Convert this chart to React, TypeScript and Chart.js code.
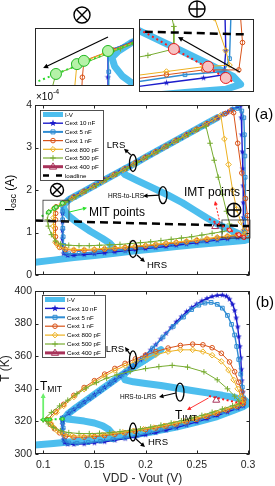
import React, { useEffect, useRef } from 'react';
import { Chart, registerables } from 'chart.js';
Chart.register(...registerables);

type P = [number, number];
const FONT = '"Liberation Sans", Arial, Helvetica, sans-serif';

// ---------------- axes ----------------
const X_MIN = 0.092, X_MAX = 0.302;
const X_TICKS = [0.1, 0.15, 0.2, 0.25, 0.3];
const IA_TICKS = [0, 1, 2, 3, 4]; // x 1e-4 A
const T_TICKS = [300, 320, 340, 360, 380, 400];

const COL = {
  iv: '#4DBEEE', c10: '#1C1CCB', c5: '#2E8CD3', c1: '#D95319', c800: '#EDB120', c500: '#77AC30', c400: '#A8325A',
};

const LEGEND_A = ['I-V', 'Cext 10 nF', 'Cext 5 nF', 'Cext 1 nF', 'Cext 800 pF', 'Cext 500 pF', 'Cext 400 pF', 'loadline'];
const LEGEND_B = ['I-V', 'Cext 10 nF', 'Cext 5 nF', 'Cext 1 nF', 'Cext 800 pF', 'Cext 500 pF', 'Cext 400 pF'];

// ---------------- panel (a): Iosc (1e-4 A) vs VDD - Vout (V) ----------------
const IV_A_MAIN: P[] = [[0.092,0.3],[0.11,0.35],[0.13,0.41],[0.15,0.46],[0.17,0.51],[0.19,0.57],[0.21,0.62],[0.23,0.67],[0.25,0.72],[0.27,0.76],[0.285,0.79],[0.296,0.81],[0.3,0.84],[0.298,0.89],[0.292,0.96],[0.283,1.06],[0.272,1.18],[0.26,1.34],[0.248,1.52],[0.236,1.7],[0.222,1.88],[0.206,2.06],[0.192,2.22],[0.18,2.36],[0.177,2.44],[0.18,2.5],[0.19,2.63],[0.2,2.77],[0.215,2.97],[0.23,3.17],[0.245,3.37],[0.26,3.57],[0.27,3.7]];
const IV_A_MIT: P[] = [[0.18,2.5],[0.16,2.24],[0.14,1.97],[0.13,1.84],[0.125,1.77],[0.1215,1.69],[0.1198,1.63],[0.1205,1.55],[0.1225,1.46],[0.126,1.37],[0.134,1.22],[0.146,1.03],[0.158,0.86],[0.165,0.75],[0.168,0.67],[0.165,0.6],[0.158,0.54],[0.15,0.5]];
const C10N_A: P[] = [[0.1188,1.69],[0.125,1.77],[0.13,1.84],[0.135,1.9],[0.14,1.97],[0.145,2.04],[0.15,2.1],[0.155,2.17],[0.16,2.24],[0.165,2.3],[0.17,2.37],[0.175,2.44],[0.18,2.5],[0.185,2.57],[0.19,2.63],[0.195,2.7],[0.2,2.77],[0.205,2.83],[0.21,2.9],[0.215,2.97],[0.22,3.03],[0.225,3.1],[0.23,3.17],[0.235,3.23],[0.24,3.3],[0.245,3.37],[0.25,3.43],[0.255,3.5],[0.26,3.57],[0.265,3.63],[0.27,3.7],[0.275,3.77],[0.28,3.83],[0.285,3.9],[0.29,3.96],[0.293,4.0],[0.2935,3.7],[0.294,3.3],[0.2945,2.9],[0.295,2.5],[0.2953,2.1],[0.2955,1.7],[0.2957,1.35],[0.296,1.05],[0.2955,0.9],[0.29,0.88],[0.28,0.85],[0.27,0.82],[0.26,0.79],[0.25,0.76],[0.24,0.73],[0.23,0.7],[0.22,0.67],[0.21,0.645],[0.2,0.62],[0.19,0.595],[0.18,0.57],[0.17,0.545],[0.16,0.52],[0.15,0.5],[0.14,0.48],[0.13,0.465],[0.124,0.46],[0.12,0.5],[0.119,0.65],[0.1188,0.85],[0.1188,1.05],[0.1188,1.25],[0.1188,1.45],[0.1188,1.69]];
const C5N_A: P[] = [[0.1188,1.69],[0.127,1.8],[0.137,1.93],[0.147,2.06],[0.157,2.2],[0.167,2.33],[0.177,2.46],[0.187,2.6],[0.197,2.73],[0.207,2.86],[0.217,2.99],[0.227,3.12],[0.237,3.26],[0.247,3.39],[0.257,3.52],[0.267,3.66],[0.277,3.79],[0.285,3.9],[0.29,3.92],[0.294,3.86],[0.296,3.7],[0.2965,3.3],[0.297,2.8],[0.2972,2.3],[0.2975,1.8],[0.2975,1.35],[0.297,1.0],[0.2955,0.92],[0.285,0.9],[0.27,0.85],[0.255,0.8],[0.24,0.76],[0.225,0.72],[0.21,0.68],[0.195,0.64],[0.18,0.6],[0.165,0.57],[0.15,0.54],[0.135,0.51],[0.125,0.5],[0.121,0.54],[0.12,0.7],[0.1195,0.9],[0.1192,1.1],[0.119,1.3],[0.119,1.5],[0.1188,1.69]];
const C1N_A: P[] = [[0.1126,1.6],[0.12,1.7],[0.13,1.84],[0.14,1.97],[0.15,2.1],[0.16,2.24],[0.17,2.37],[0.18,2.5],[0.19,2.64],[0.2,2.77],[0.21,2.9],[0.22,3.03],[0.23,3.17],[0.24,3.3],[0.25,3.43],[0.26,3.56],[0.27,3.7],[0.278,3.8],[0.283,3.86],[0.286,3.82],[0.29,3.1],[0.294,2.4],[0.2975,1.8],[0.2995,1.4],[0.3005,1.1],[0.2995,0.93],[0.29,0.93],[0.28,0.9],[0.27,0.87],[0.26,0.84],[0.25,0.81],[0.24,0.78],[0.23,0.755],[0.22,0.73],[0.21,0.705],[0.2,0.68],[0.19,0.66],[0.18,0.64],[0.17,0.62],[0.16,0.605],[0.15,0.59],[0.14,0.58],[0.13,0.58],[0.122,0.6],[0.116,0.65],[0.113,0.75],[0.112,0.9],[0.1118,1.1],[0.112,1.3],[0.1122,1.45],[0.1126,1.6]];
const C800P_A: P[] = [[0.1108,1.57],[0.118,1.67],[0.128,1.8],[0.138,1.94],[0.148,2.07],[0.158,2.2],[0.168,2.34],[0.178,2.47],[0.188,2.6],[0.198,2.74],[0.208,2.87],[0.218,3.0],[0.228,3.14],[0.238,3.27],[0.248,3.4],[0.258,3.54],[0.266,3.65],[0.2735,3.76],[0.277,3.2],[0.281,2.6],[0.285,2.0],[0.289,1.55],[0.293,1.25],[0.296,1.05],[0.297,0.96],[0.29,0.95],[0.28,0.92],[0.27,0.89],[0.26,0.86],[0.25,0.83],[0.24,0.8],[0.23,0.775],[0.22,0.75],[0.21,0.725],[0.2,0.7],[0.19,0.68],[0.18,0.66],[0.17,0.64],[0.16,0.625],[0.15,0.61],[0.14,0.6],[0.13,0.6],[0.121,0.62],[0.115,0.67],[0.112,0.77],[0.1105,0.95],[0.11,1.15],[0.1102,1.35],[0.1108,1.57]];
const C500P_A: P[] = [[0.1054,1.48],[0.112,1.57],[0.122,1.71],[0.132,1.84],[0.142,1.98],[0.152,2.11],[0.162,2.25],[0.172,2.38],[0.182,2.51],[0.192,2.65],[0.202,2.78],[0.212,2.91],[0.222,3.05],[0.232,3.18],[0.242,3.31],[0.25,3.42],[0.259,3.5],[0.263,3.1],[0.267,2.7],[0.271,2.3],[0.275,1.9],[0.279,1.5],[0.282,1.2],[0.282,1.06],[0.275,1.02],[0.265,0.98],[0.255,0.94],[0.245,0.9],[0.235,0.87],[0.225,0.84],[0.215,0.81],[0.205,0.78],[0.195,0.76],[0.185,0.74],[0.175,0.72],[0.165,0.71],[0.155,0.7],[0.145,0.69],[0.135,0.69],[0.125,0.7],[0.117,0.73],[0.112,0.8],[0.108,0.95],[0.105,1.15],[0.104,1.3],[0.1054,1.48]];
const C400P_A: P[] = [[0.268, 1.14]];
const LOADLINE_A: P[] = [[0.092, 1.28], [0.302, 1.15]];
const MIT_LINE_A: P[] = [[0.0985, 1.38], [0.127, 1.79]];
const MIT_PTS_A: P[] = [[0.1054, 1.48], [0.1108, 1.57], [0.1126, 1.6], [0.1188, 1.69]];
const IMT_LINE_A: P[] = [[0.262, 1.32], [0.298, 0.855]];
const IMT_PTS_A: P[] = [[0.282, 1.06], [0.2912, 0.95], [0.296, 0.88]];

// ---------------- panel (b): T (K) vs VDD - Vout (V) ----------------
const IV_B_MAIN: P[] = [[0.092,305.5],[0.11,306.5],[0.13,307.7],[0.15,309],[0.17,310.5],[0.19,312],[0.21,314],[0.23,316.5],[0.25,319.5],[0.27,323],[0.285,326.5],[0.295,329],[0.3,331],[0.297,333],[0.288,334.5],[0.275,336],[0.26,337.5],[0.245,339],[0.23,340.5],[0.215,342],[0.2,343.2],[0.188,344.3],[0.18,345.5],[0.178,348],[0.182,351],[0.19,354.5],[0.2,358],[0.215,364]];
const IV_B_MIT: P[] = [[0.2,358],[0.18,350],[0.16,341],[0.14,332],[0.13,327.5],[0.124,324.5],[0.1216,322.5],[0.123,321.5],[0.13,321],[0.14,320.2],[0.15,319],[0.158,317.3],[0.164,315],[0.167,312.8],[0.167,311],[0.163,309.8],[0.155,309.3]];
const C10N_B: P[] = [[0.1188,322],[0.125,325],[0.13,327.3],[0.135,329.5],[0.14,331.8],[0.145,334],[0.15,336.3],[0.155,338.5],[0.16,340.8],[0.165,343],[0.17,345.3],[0.175,347.6],[0.18,350],[0.185,352.5],[0.19,355],[0.195,357.8],[0.2,360.7],[0.205,363.8],[0.21,367],[0.215,370.5],[0.22,374],[0.225,377.5],[0.23,381],[0.235,384.2],[0.24,387.2],[0.245,389.8],[0.25,392],[0.255,393.9],[0.26,395.4],[0.265,396.6],[0.27,397.3],[0.275,397.5],[0.279,396.8],[0.282,395],[0.285,391.8],[0.287,388],[0.2885,383.5],[0.29,378],[0.291,372],[0.292,366],[0.293,359],[0.2935,352],[0.294,345],[0.295,338],[0.296,332.5],[0.2955,329.5],[0.29,328],[0.28,325.8],[0.27,323.6],[0.26,321.6],[0.25,319.7],[0.24,317.9],[0.23,316.2],[0.22,314.6],[0.21,313.1],[0.2,311.8],[0.19,310.5],[0.18,309.4],[0.17,308.4],[0.16,307.5],[0.15,306.8],[0.14,306.2],[0.13,305.9],[0.124,306],[0.121,307],[0.12,309],[0.1195,312],[0.119,315],[0.119,318],[0.1188,320],[0.1188,322]];
const C5N_B: P[] = [[0.1188,322],[0.127,326.2],[0.137,330.4],[0.147,334.9],[0.157,339.4],[0.167,343.9],[0.177,348.5],[0.187,353.5],[0.197,358.9],[0.207,365],[0.217,371.8],[0.227,378.3],[0.237,384],[0.245,388.6],[0.252,391.3],[0.258,392.6],[0.264,393],[0.27,391.8],[0.275,389.5],[0.28,385],[0.284,379.5],[0.287,373],[0.289,366],[0.291,358],[0.293,349],[0.2945,341],[0.2957,334.5],[0.2955,330.5],[0.288,328.5],[0.276,326],[0.264,323.5],[0.252,321],[0.24,318.8],[0.228,316.7],[0.216,314.8],[0.204,313],[0.192,311.4],[0.18,310],[0.168,308.8],[0.156,307.8],[0.144,307],[0.133,306.6],[0.125,306.8],[0.121,308.5],[0.12,312],[0.1195,316],[0.119,319.5],[0.1188,322]];
const C1N_B: P[] = [[0.104,321],[0.112,326],[0.12,330.5],[0.13,336],[0.14,340.8],[0.15,345],[0.16,349],[0.17,352.5],[0.18,355.6],[0.19,358.3],[0.2,360.7],[0.21,362.8],[0.222,365],[0.234,366.6],[0.246,367.4],[0.256,367],[0.265,365.2],[0.274,361.8],[0.282,356.5],[0.287,350.5],[0.291,344],[0.294,338],[0.296,333.5],[0.2955,331],[0.29,329.3],[0.28,327],[0.27,325],[0.26,323],[0.25,321.3],[0.24,319.8],[0.23,318.4],[0.22,317.1],[0.21,316],[0.2,315],[0.19,314],[0.18,313],[0.17,312.1],[0.16,311.3],[0.15,310.7],[0.14,310.3],[0.13,310.3],[0.122,311],[0.116,313],[0.111,315.5],[0.107,318.2],[0.104,321]];
const C800P_B: P[] = [[0.1064,321],[0.113,325.5],[0.12,329.5],[0.13,335],[0.14,339.8],[0.15,344],[0.16,347.8],[0.17,351.2],[0.18,354.2],[0.19,356.8],[0.2,359],[0.21,360.9],[0.222,362.8],[0.234,363.9],[0.246,363.9],[0.256,362.8],[0.265,360.6],[0.274,356.8],[0.281,351.5],[0.286,345.5],[0.29,340],[0.293,335.5],[0.295,332.5],[0.2945,330.8],[0.288,329.5],[0.278,327.3],[0.268,325.2],[0.258,323.3],[0.248,321.6],[0.238,320],[0.228,318.6],[0.218,317.3],[0.208,316.2],[0.198,315.2],[0.188,314.2],[0.178,313.3],[0.168,312.5],[0.158,311.8],[0.148,311.3],[0.138,311],[0.128,311.1],[0.12,312],[0.114,314],[0.11,316.5],[0.1075,318.8],[0.1064,321]];
const C500P_B: P[] = [[0.1,321],[0.108,325.5],[0.116,329.5],[0.124,333],[0.133,337],[0.142,340.5],[0.152,343.8],[0.162,346.5],[0.172,348.6],[0.185,350.6],[0.2,352.4],[0.213,353.6],[0.226,354.4],[0.241,353.3],[0.257,350.4],[0.27,345.5],[0.28,340],[0.287,335.5],[0.291,332.5],[0.292,330.8],[0.285,329.6],[0.275,327.6],[0.265,325.6],[0.255,323.7],[0.245,322],[0.235,320.4],[0.225,319],[0.215,317.7],[0.205,316.5],[0.195,315.4],[0.185,314.5],[0.175,313.7],[0.165,313.1],[0.155,312.7],[0.145,312.5],[0.135,312.6],[0.125,313.1],[0.117,314.3],[0.11,316.3],[0.105,318.5],[0.1,321]];
const C400P_B: P[] = [[0.269, 333]];
const MIT_LINE_B: P[] = [[0.098, 321], [0.121, 321.6]];
const MIT_PTS_B: P[] = [[0.1, 321], [0.104, 321.1], [0.1064, 321.2], [0.1188, 321.5]];
const IMT_LINE_B: P[] = [[0.262, 335.5], [0.297, 330.5]];

// ---------------- annotations (data coordinates) ----------------
const A_LRS_TEXT: P = [0.1711, 3.06];
const A_LRS_ELL: P = [0.1877, 2.635];
const A_LRS_ARROW: P[] = [[0.1855, 2.83], [0.1789, 2.97]];
const A_H2L_TEXT: P = [0.1809, 1.86];
const A_H2L_ELL: P = [0.217, 1.88];
const A_H2L_ARROW: P[] = [[0.2131, 1.88], [0.1975, 1.86]];
const A_IMT_TEXT: P = [0.2649, 1.93];
const A_IMT_ARROW: P[] = [[0.2727, 1.22], [0.2678, 1.74]];
const A_OPLUS: P = [0.2864, 1.53];
const A_MIT_TEXT: P = [0.172, 1.46];
const A_MIT_ARROW: P[] = [[0.1252, 1.48], [0.1428, 1.58]];
const A_OTIMES: P = [0.1135, 2.0];
const A_HRS_TEXT: P = [0.2112, 0.235];
const A_HRS_ELL: P = [0.1877, 0.612];
const A_HRS_ARROW: P[] = [[0.1916, 0.47], [0.1994, 0.306]];
const A_LABEL: P = [0.3157, 3.765];
const A_BOX_MIT: P[] = [[0.0998, 1.27], [0.1252, 1.76]];
const A_BOX_IMT: P[] = [[0.2746, 0.87], [0.302, 1.294]];

const B_LRS_TEXT: P = [0.1701, 364.4];
const B_LRS_ELL: P = [0.1877, 357.7];
const B_LRS_ARROW: P[] = [[0.1848, 361.3], [0.1799, 365.6]];
const B_H2L_TEXT: P = [0.1926, 335];
const B_H2L_ELL: P = [0.2336, 338];
const B_H2L_ARROW: P[] = [[0.2297, 337.4], [0.2131, 335]];
const B_HRS_TEXT: P = [0.2121, 307.4];
const B_HRS_ELL: P = [0.1877, 313.5];
const B_HRS_ARROW: P[] = [[0.1906, 309.2], [0.1994, 304.3]];
const B_TMIT_ANCHOR: P = [0.0969, 339.3];
const B_TMIT_ARROW: P[] = [[0.1, 321.8], [0.1, 337.4]];
const B_TIMT_ANCHOR: P = [0.2287, 321.5];
const B_TIMT_ARROW: P[] = [[0.2615, 334.4], [0.2405, 327]];
const B_LABEL: P = [0.3166, 392.6];

// insets: zoomed views of panel (a)
const INSET_L_X = [0.1, 0.1255];
const INSET_L_Y = [1.37, 1.9];
const INSET_L_ARROW: P[] = [[0.1188, 1.818], [0.1021, 1.534]];
const INSET_R_X = [0.2726, 0.3036];
const INSET_R_Y = [0.793, 1.246];
const INSET_R_ARROW: P[] = [[0.2998, 0.917], [0.2831, 1.134]];

// ---------------- helpers ----------------
function makeStar(color: string, size: number) {
  const c = document.createElement('canvas');
  c.width = size; c.height = size;
  const g = c.getContext('2d')!;
  const cx = size / 2, cy = size / 2, R = size / 2 - 0.3, r = R * 0.42;
  g.beginPath();
  for (let i = 0; i < 10; i++) {
    const ang = -Math.PI / 2 + (i * Math.PI) / 5;
    const rad = i % 2 === 0 ? R : r;
    const x = cx + rad * Math.cos(ang), y = cy + rad * Math.sin(ang);
    if (i === 0) g.moveTo(x, y); else g.lineTo(x, y);
  }
  g.closePath();
  g.fillStyle = color; g.fill();
  return c;
}

const pts = (d: P[]) => d.map(([x, y]) => ({ x, y }));

function band(d: P[]) {
  return { data: pts(d), showLine: true, borderColor: COL.iv, borderWidth: 7, pointRadius: 0, borderCapStyle: 'round', borderJoinStyle: 'round', order: 20, clip: 0 };
}
function curve(d: P[], color: string, width: number, pointStyle: any, radius: number, order: number, extra: any = {}) {
  return { data: pts(d), showLine: true, borderColor: color, borderWidth: width, pointStyle, pointRadius: radius, pointBorderColor: color, pointBackgroundColor: 'rgba(0,0,0,0)', pointBorderWidth: 1, tension: 0, order, clip: 0, ...extra };
}

function seriesA(star: any, inset: boolean) {
  const big = inset ? 5.5 : 2;
  return [
    band(IV_A_MAIN), band(IV_A_MIT),
    curve(C10N_A, COL.c10, 1.4, star, 3, 9),
    curve(C5N_A, COL.c5, 1.4, 'rect', 2.6, 8),
    curve(C1N_A, COL.c1, 1, 'circle', 2.3, 7),
    curve(C800P_A, COL.c800, 1, 'rectRot', 2.8, 6),
    curve(C500P_A, COL.c500, 1, 'cross', 2.8, 5),
    curve(C400P_A, COL.c400, 1.2, 'triangle', 4, 4, { showLine: false }),
    curve(LOADLINE_A, '#000', 2.5, 'circle', 0, 3, { borderDash: [8, 5] }),
    curve(MIT_LINE_A, '#2BD92B', 2, 'circle', 0, 2, { borderDash: [2, 3] }),
    curve(MIT_PTS_A, '#22B822', 1, 'circle', big, 1, { showLine: false, pointBackgroundColor: '#B5F2A8' }),
    curve(IMT_LINE_A, '#FF1A1A', 2, 'circle', 0, 2, { borderDash: [2, 3] }),
    curve(IMT_PTS_A, '#E41E1E', 1, 'circle', big, 1, { showLine: false, pointBackgroundColor: '#F7C3C3' }),
  ];
}
function seriesB(star: any) {
  return [
    band(IV_B_MAIN), band(IV_B_MIT),
    curve(C10N_B, COL.c10, 1.4, star, 3, 9),
    curve(C5N_B, COL.c5, 1.4, 'rect', 2.6, 8),
    curve(C1N_B, COL.c1, 1, 'circle', 2.3, 7),
    curve(C800P_B, COL.c800, 1, 'rectRot', 2.8, 6),
    curve(C500P_B, COL.c500, 1, 'cross', 2.8, 5),
    curve(C400P_B, COL.c400, 1.2, 'triangle', 4, 4, { showLine: false }),
    curve(MIT_LINE_B, '#2BD92B', 2, 'circle', 0, 2, { borderDash: [2, 2.5] }),
    curve(MIT_PTS_B, '#22C822', 1, 'circle', 1.6, 1, { showLine: false, pointBackgroundColor: '#7BEA6E' }),
    curve(IMT_LINE_B, '#FF1A1A', 2, 'circle', 0, 2, { borderDash: [2, 2.5] }),
  ];
}

function px(chart: any, p: P): P {
  return [chart.scales.x.getPixelForValue(p[0]), chart.scales.y.getPixelForValue(p[1])];
}
function text(ctx: any, s: string, x: number, y: number, size: number, align = 'center', baseline = 'middle', color = '#000') {
  ctx.save();
  ctx.font = `${size}px ${FONT}`; ctx.fillStyle = color; ctx.textAlign = align; ctx.textBaseline = baseline;
  ctx.fillText(s, x, y);
  ctx.restore();
}
function arrow(ctx: any, a: P, b: P, color = '#000', width = 1.2, dash: number[] = [], head = 4.5) {
  const ang = Math.atan2(b[1] - a[1], b[0] - a[0]);
  ctx.save();
  ctx.strokeStyle = color; ctx.fillStyle = color; ctx.lineWidth = width; ctx.setLineDash(dash);
  ctx.beginPath(); ctx.moveTo(a[0], a[1]);
  ctx.lineTo(b[0] - Math.cos(ang) * head * 0.7, b[1] - Math.sin(ang) * head * 0.7); ctx.stroke();
  ctx.setLineDash([]);
  ctx.beginPath();
  ctx.moveTo(b[0], b[1]);
  ctx.lineTo(b[0] - head * Math.cos(ang) + head * 0.5 * Math.sin(ang), b[1] - head * Math.sin(ang) - head * 0.5 * Math.cos(ang));
  ctx.lineTo(b[0] - head * Math.cos(ang) - head * 0.5 * Math.sin(ang), b[1] - head * Math.sin(ang) + head * 0.5 * Math.cos(ang));
  ctx.closePath(); ctx.fill();
  ctx.restore();
}
function ellipse(ctx: any, c: P, rx: number, ry: number) {
  ctx.save(); ctx.strokeStyle = '#000'; ctx.lineWidth = 1.3;
  ctx.beginPath(); ctx.ellipse(c[0], c[1], rx, ry, 0, 0, Math.PI * 2); ctx.stroke(); ctx.restore();
}
function circSym(ctx: any, c: P, r: number, plus: boolean) {
  ctx.save(); ctx.strokeStyle = '#000'; ctx.lineWidth = 1.4;
  ctx.beginPath(); ctx.arc(c[0], c[1], r, 0, Math.PI * 2); ctx.stroke();
  ctx.beginPath();
  if (plus) {
    ctx.moveTo(c[0] - r, c[1]); ctx.lineTo(c[0] + r, c[1]); ctx.moveTo(c[0], c[1] - r); ctx.lineTo(c[0], c[1] + r);
  } else {
    const d = r * Math.SQRT1_2;
    ctx.moveTo(c[0] - d, c[1] - d); ctx.lineTo(c[0] + d, c[1] + d); ctx.moveTo(c[0] + d, c[1] - d); ctx.lineTo(c[0] - d, c[1] + d);
  }
  ctx.stroke(); ctx.restore();
}
function rectData(chart: any, box: P[]) {
  const a = px(chart, box[0]), b = px(chart, box[1]);
  const ctx = chart.ctx;
  ctx.save(); ctx.strokeStyle = '#333'; ctx.lineWidth = 0.8;
  ctx.strokeRect(Math.min(a[0], b[0]), Math.min(a[1], b[1]), Math.abs(b[0] - a[0]), Math.abs(b[1] - a[1]));
  ctx.restore();
}
function frame(chart: any, xt: number[], yt: number[]) {
  const { ctx, chartArea: a, scales } = chart;
  ctx.save(); ctx.strokeStyle = '#262626'; ctx.lineWidth = 1;
  const L = Math.round(a.left) + 0.5, R = Math.round(a.right) - 0.5, T = Math.round(a.top) + 0.5, B = Math.round(a.bottom) - 0.5;
  ctx.strokeRect(L, T, R - L, B - T);
  ctx.beginPath();
  for (const v of xt) {
    const x = Math.round(scales.x.getPixelForValue(v)) + 0.5;
    ctx.moveTo(x, B); ctx.lineTo(x, B - 3); ctx.moveTo(x, T); ctx.lineTo(x, T + 3);
  }
  for (const v of yt) {
    const y = Math.round(scales.y.getPixelForValue(v)) + 0.5;
    ctx.moveTo(L, y); ctx.lineTo(L + 3, y); ctx.moveTo(R, y); ctx.lineTo(R - 3, y);
  }
  ctx.stroke(); ctx.restore();
}
function marker(ctx: any, style: string, x: number, y: number, color: string) {
  ctx.save(); ctx.strokeStyle = color; ctx.fillStyle = color; ctx.lineWidth = 1;
  ctx.beginPath();
  if (style === 'star') {
    const R = 3.6, r = R * 0.42;
    for (let i = 0; i < 10; i++) {
      const ang = -Math.PI / 2 + (i * Math.PI) / 5, rad = i % 2 === 0 ? R : r;
      const xx = x + rad * Math.cos(ang), yy = y + rad * Math.sin(ang);
      if (i === 0) ctx.moveTo(xx, yy); else ctx.lineTo(xx, yy);
    }
    ctx.closePath(); ctx.fill();
  } else if (style === 'rect') { ctx.rect(x - 2, y - 2, 4, 4); ctx.stroke(); }
  else if (style === 'circle') { ctx.arc(x, y, 2.3, 0, Math.PI * 2); ctx.stroke(); }
  else if (style === 'rectRot') { ctx.moveTo(x, y - 2.8); ctx.lineTo(x + 2.8, y); ctx.lineTo(x, y + 2.8); ctx.lineTo(x - 2.8, y); ctx.closePath(); ctx.stroke(); }
  else if (style === 'cross') { ctx.moveTo(x - 2.8, y); ctx.lineTo(x + 2.8, y); ctx.moveTo(x, y - 2.8); ctx.lineTo(x, y + 2.8); ctx.stroke(); }
  else if (style === 'triangle') { ctx.moveTo(x, y - 3.8); ctx.lineTo(x + 3.6, y + 2.4); ctx.lineTo(x - 3.6, y + 2.4); ctx.closePath(); ctx.stroke(); }
  ctx.restore();
}
const LEG_STYLE = [
  { c: COL.iv, w: 5, m: '' },
  { c: COL.c10, w: 1.4, m: 'star' },
  { c: COL.c5, w: 2, m: 'rect' },
  { c: COL.c1, w: 1.2, m: 'circle' },
  { c: COL.c800, w: 1.2, m: 'rectRot' },
  { c: COL.c500, w: 1.2, m: 'cross' },
  { c: COL.c400, w: 3, m: 'triangle' },
  { c: '#000', w: 2.5, m: 'dash' },
];
function legend(ctx: any, left: number, top: number, w: number, h: number, labels: string[], step: number) {
  ctx.save();
  ctx.fillStyle = '#fff'; ctx.fillRect(left, top, w, h);
  ctx.strokeStyle = '#262626'; ctx.lineWidth = 0.8; ctx.strokeRect(left + 0.5, top + 0.5, w, h);
  labels.forEach((lab, i) => {
    const st = LEG_STYLE[i];
    const y = top + 4.5 + i * step;
    ctx.strokeStyle = st.c; ctx.lineWidth = st.w; ctx.lineCap = 'butt';
    ctx.beginPath();
    if (st.m === 'dash') { ctx.moveTo(left + 3, y); ctx.lineTo(left + 9, y); ctx.moveTo(left + 16, y); ctx.lineTo(left + 22, y); }
    else { ctx.moveTo(left + 3, y); ctx.lineTo(left + 23, y); }
    ctx.stroke();
    if (st.m && st.m !== 'dash') marker(ctx, st.m, left + 13, y, st.c);
    text(ctx, lab, left + 25, y + 0.5, 6.2, 'left', 'middle', '#000');
  });
  ctx.restore();
}
function subText(ctx: any, main: string, sub: string, x: number, y: number, s1: number, s2: number, dy: number) {
  ctx.save();
  ctx.font = `${s1}px ${FONT}`; ctx.fillStyle = '#000'; ctx.textBaseline = 'alphabetic'; ctx.textAlign = 'left';
  ctx.fillText(main, x, y);
  const w = ctx.measureText(main).width;
  ctx.font = `${s2}px ${FONT}`; ctx.fillText(sub, x + w, y + dy);
  ctx.restore();
}

// ---------------- plugins ----------------
const plugA = {
  id: 'plugA',
  afterDraw(chart: any) {
    const { ctx, chartArea: a } = chart;
    frame(chart, X_TICKS, IA_TICKS);
    rectData(chart, A_BOX_MIT); rectData(chart, A_BOX_IMT);
    text(ctx, 'LRS', ...px(chart, A_LRS_TEXT), 9.5);
    ellipse(ctx, px(chart, A_LRS_ELL), 3.5, 8.5);
    arrow(ctx, px(chart, A_LRS_ARROW[0]), px(chart, A_LRS_ARROW[1]));
    text(ctx, 'HRS-to-LRS', ...px(chart, A_H2L_TEXT), 6.5);
    ellipse(ctx, px(chart, A_H2L_ELL), 4, 8.5);
    arrow(ctx, px(chart, A_H2L_ARROW[0]), px(chart, A_H2L_ARROW[1]));
    text(ctx, 'IMT points', ...px(chart, A_IMT_TEXT), 12);
    arrow(ctx, px(chart, A_IMT_ARROW[0]), px(chart, A_IMT_ARROW[1]), '#FF2020', 1, [2, 1.5], 4);
    circSym(ctx, px(chart, A_OPLUS), 6.8, true);
    text(ctx, 'MIT points', ...px(chart, A_MIT_TEXT), 12);
    arrow(ctx, px(chart, A_MIT_ARROW[0]), px(chart, A_MIT_ARROW[1]), '#2BE02B', 1, [], 4);
    circSym(ctx, px(chart, A_OTIMES), 6.5, false);
    text(ctx, 'HRS', ...px(chart, A_HRS_TEXT), 9.5);
    ellipse(ctx, px(chart, A_HRS_ELL), 4, 8.5);
    arrow(ctx, px(chart, A_HRS_ARROW[0]), px(chart, A_HRS_ARROW[1]));
    text(ctx, '(a)', ...px(chart, A_LABEL), 15);
    subText(ctx, '\u00d710', '-4', a.left + 1, a.top - 5, 10, 7, -6);
    legend(ctx, a.left + 5, a.top + 5, 63, 70, LEGEND_A, 8.7);
    ctx.save();
    ctx.translate(11, (a.top + a.bottom) / 2 + 3); ctx.rotate(-Math.PI / 2);
    ctx.font = `12px ${FONT}`;
    const w1 = ctx.measureText('I').width;
    ctx.font = `9px ${FONT}`;
    const w2 = ctx.measureText('osc').width;
    ctx.font = `12px ${FONT}`;
    const w3 = ctx.measureText(' (A)').width;
    const x0 = -(w1 + w2 + w3) / 2;
    ctx.fillStyle = '#000'; ctx.textBaseline = 'middle'; ctx.textAlign = 'left';
    ctx.fillText('I', x0, 0);
    ctx.font = `9px ${FONT}`; ctx.fillText('osc', x0 + w1, 3);
    ctx.font = `12px ${FONT}`; ctx.fillText(' (A)', x0 + w1 + w2, 0);
    ctx.restore();
  },
};
const plugB = {
  id: 'plugB',
  afterDraw(chart: any) {
    const { ctx, chartArea: a } = chart;
    frame(chart, X_TICKS, T_TICKS);
    text(ctx, 'LRS', ...px(chart, B_LRS_TEXT), 9.5);
    ellipse(ctx, px(chart, B_LRS_ELL), 3.5, 9);
    arrow(ctx, px(chart, B_LRS_ARROW[0]), px(chart, B_LRS_ARROW[1]));
    text(ctx, 'HRS-to-LRS', ...px(chart, B_H2L_TEXT), 6.5);
    ellipse(ctx, px(chart, B_H2L_ELL), 4, 9);
    arrow(ctx, px(chart, B_H2L_ARROW[0]), px(chart, B_H2L_ARROW[1]));
    text(ctx, 'HRS', ...px(chart, B_HRS_TEXT), 9.5);
    ellipse(ctx, px(chart, B_HRS_ELL), 3.5, 9);
    arrow(ctx, px(chart, B_HRS_ARROW[0]), px(chart, B_HRS_ARROW[1]));
    arrow(ctx, px(chart, B_TMIT_ARROW[0]), px(chart, B_TMIT_ARROW[1]), '#6CF06C', 1.8, [], 5);
    const tm = px(chart, B_TMIT_ANCHOR);
    subText(ctx, 'T', 'MIT', tm[0], tm[1], 12, 8.5, 2);
    arrow(ctx, px(chart, B_TIMT_ARROW[0]), px(chart, B_TIMT_ARROW[1]), '#FF2020', 0.9, [], 4);
    const ti = px(chart, B_TIMT_ANCHOR);
    subText(ctx, 'T', 'IMT', ti[0], ti[1], 12, 8.5, 2);
    text(ctx, '(b)', ...px(chart, B_LABEL), 15);
    legend(ctx, a.left + 7, a.top + 4, 63, 62, LEGEND_B, 8.9);
    text(ctx, 'VDD - Vout (V)', (a.left + a.right) / 2, a.bottom + 25, 12, 'center', 'middle', '#262626');
    ctx.save();
    ctx.translate(6, (a.top + a.bottom) / 2 - 4); ctx.rotate(-Math.PI / 2);
    ctx.font = `12px ${FONT}`; ctx.fillStyle = '#262626'; ctx.textAlign = 'center'; ctx.textBaseline = 'middle';
    ctx.fillText('T (K)', 0, 0);
    ctx.restore();
  },
};
const plugInsetL = {
  id: 'plugInsetL',
  afterDraw(chart: any) {
    const { ctx, chartArea: a } = chart;
    ctx.save(); ctx.strokeStyle = '#262626'; ctx.lineWidth = 1;
    ctx.strokeRect(Math.round(a.left) + 0.5, Math.round(a.top) + 0.5, Math.round(a.right - a.left) - 1, Math.round(a.bottom - a.top) - 1);
    ctx.restore();
    arrow(ctx, px(chart, INSET_L_ARROW[0]), px(chart, INSET_L_ARROW[1]), '#000', 1.2, [], 5);
    circSym(ctx, [(a.left + a.right) / 2 - 2.5, a.top - 13], 8, false);
  },
};
const plugInsetR = {
  id: 'plugInsetR',
  afterDraw(chart: any) {
    const { ctx, chartArea: a } = chart;
    ctx.save(); ctx.strokeStyle = '#262626'; ctx.lineWidth = 1;
    ctx.strokeRect(Math.round(a.left) + 0.5, Math.round(a.top) + 0.5, Math.round(a.right - a.left) - 1, Math.round(a.bottom - a.top) - 1);
    ctx.restore();
    arrow(ctx, px(chart, INSET_R_ARROW[0]), px(chart, INSET_R_ARROW[1]), '#000', 1.2, [], 5);
    circSym(ctx, [(a.left + a.right) / 2 + 0.5, a.top - 10], 8, true);
  },
};

function baseOptions(padding: any) {
  return {
    responsive: false, maintainAspectRatio: false, animation: false, events: [],
    layout: { padding, autoPadding: false },
    plugins: { legend: { display: false }, tooltip: { enabled: false }, title: { display: false } },
  };
}
function hiddenScale(r: number[]) {
  return { type: 'linear', min: r[0], max: r[1], display: false };
}

export default function App() {
  const refL = useRef<HTMLCanvasElement>(null);
  const refR = useRef<HTMLCanvasElement>(null);
  const refA = useRef<HTMLCanvasElement>(null);
  const refB = useRef<HTMLCanvasElement>(null);
  useEffect(() => {
    const star = makeStar(COL.c10, 7);
    const tickFont = { family: FONT, size: 10.5 };
    const charts: Chart[] = [];
    charts.push(new Chart(refL.current!, {
      type: 'scatter', data: { datasets: seriesA(star, true) as any },
      options: { ...baseOptions({ left: 35, top: 28, right: 3, bottom: 7 }), scales: { x: hiddenScale(INSET_L_X), y: hiddenScale(INSET_L_Y) } } as any,
      plugins: [plugInsetL],
    }));
    charts.push(new Chart(refR.current!, {
      type: 'scatter', data: { datasets: seriesA(star, true) as any },
      options: { ...baseOptions({ left: 2, top: 19, right: 21, bottom: 1 }), scales: { x: hiddenScale(INSET_R_X), y: hiddenScale(INSET_R_Y) } } as any,
      plugins: [plugInsetR],
    }));
    charts.push(new Chart(refA.current!, {
      type: 'scatter', data: { datasets: seriesA(star, false) as any },
      options: {
        ...baseOptions({ left: 0, top: 25, right: 25, bottom: 10 }),
        scales: {
          x: { type: 'linear', min: X_MIN, max: X_MAX, display: false },
          y: {
            type: 'linear', min: 0, max: 4,
            afterBuildTicks: (s: any) => { s.ticks = IA_TICKS.map((v) => ({ value: v })); },
            afterFit: (s: any) => { s.width = 35; },
            grid: { display: false, drawTicks: false }, border: { display: false },
            ticks: { padding: 3, font: tickFont, color: '#262626', callback: (v: any) => String(v) },
          },
        },
      } as any,
      plugins: [plugA],
    }));
    charts.push(new Chart(refB.current!, {
      type: 'scatter', data: { datasets: seriesB(star) as any },
      options: {
        ...baseOptions({ left: 0, top: 11, right: 25, bottom: 0 }),
        scales: {
          x: {
            type: 'linear', min: X_MIN, max: X_MAX,
            afterBuildTicks: (s: any) => { s.ticks = X_TICKS.map((v) => ({ value: v })); },
            afterFit: (s: any) => { s.height = 32; },
            grid: { display: false, drawTicks: false }, border: { display: false },
            ticks: { padding: 5, font: tickFont, color: '#262626', autoSkip: false, maxRotation: 0, callback: (v: any) => String(v) },
          },
          y: {
            type: 'linear', min: 300, max: 400,
            afterBuildTicks: (s: any) => { s.ticks = T_TICKS.map((v) => ({ value: v })); },
            afterFit: (s: any) => { s.width = 35; },
            grid: { display: false, drawTicks: false }, border: { display: false },
            ticks: { padding: 3, font: tickFont, color: '#262626', callback: (v: any) => String(v) },
          },
        },
      } as any,
      plugins: [plugB],
    }));
    return () => charts.forEach((c) => c.destroy());
  }, []);
  const abs = (l: number, t: number, w: number, h: number) => ({ position: 'absolute' as const, left: l, top: t, width: w, height: h });
  return (
    <div style={{ position: 'fixed', left: 0, top: 0, width: 275, height: 486, background: '#fff', overflow: 'hidden' }}>
      <canvas ref={refL} width={137} height={93} style={abs(0, 0, 137, 93)} />
      <canvas ref={refR} width={138} height={93} style={abs(137, 0, 138, 93)} />
      <canvas ref={refA} width={275} height={205} style={abs(0, 80, 275, 205)} />
      <canvas ref={refB} width={275} height={206} style={abs(0, 280, 275, 206)} />
    </div>
  );
}
